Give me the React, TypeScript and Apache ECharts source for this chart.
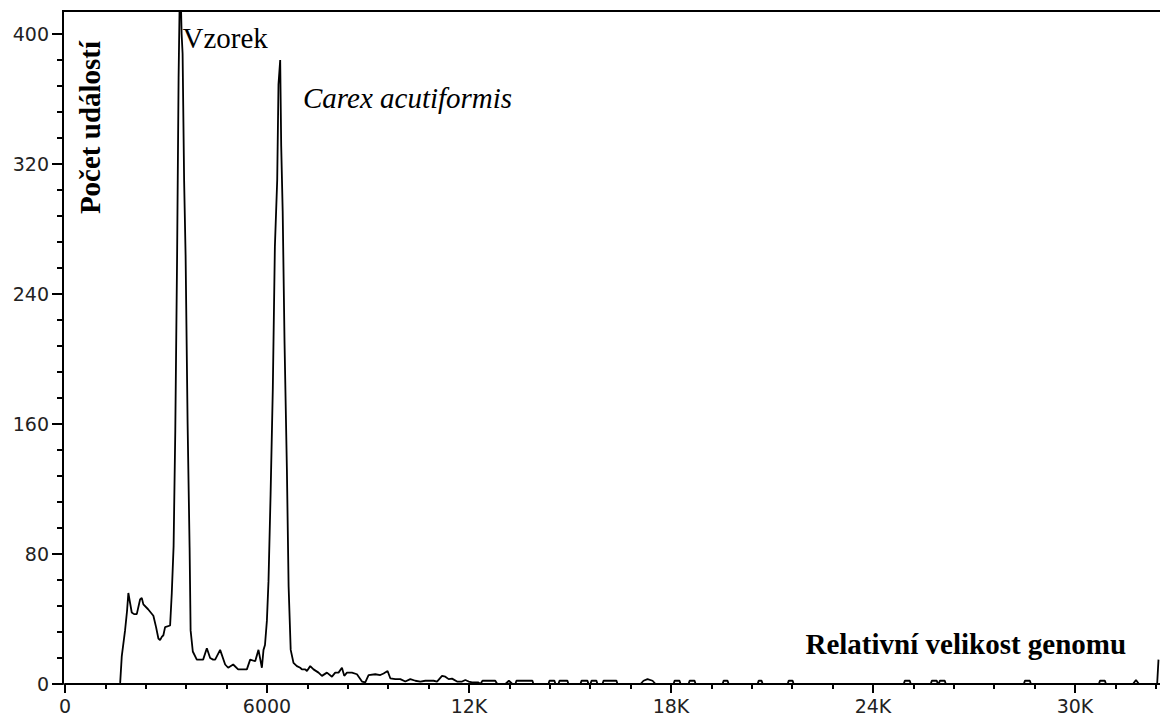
import React, { useEffect, useRef } from "react";
import * as echarts from "echarts";

// Relative genome size (channel position) and event counts
const genomeSize = [
  0, 1630, 1640, 1686, 1784, 1843, 1882, 1932, 1983, 2051, 2132, 2230, 2280, 2328, 2468, 2625,
  2705, 2774, 2824, 2875, 2922, 2973, 3122, 3172, 3226, 3276, 3330, 3374, 3419, 3464, 3493,
  3538, 3582, 3642, 3701, 3731, 3796, 3915, 4103, 4213, 4311, 4400, 4460, 4608, 4757, 4846,
  4995, 5143, 5402, 5500, 5649, 5747, 5848, 5896, 5940, 5997, 6044, 6107, 6172, 6234, 6303,
  6341, 6392, 6422, 6466, 6520, 6591, 6642, 6704, 6787, 6888, 6987, 7037, 7135, 7186, 7284,
  7382, 7531, 7632, 7780, 7929, 8027, 8125, 8226, 8295, 8375, 8524, 8672, 8821, 8919, 9017,
  9216, 9365, 9463, 9582, 9662, 9811, 9960, 10108, 10257, 10406, 10554, 10703, 10950, 11051,
  11199, 11297, 11396, 11496, 11645, 11794, 11892, 11990, 12091, 12278, 12340,
  12400, 12780, 12840,
  13081, 13185, 13289,
  13379, 13408, 13884, 13914,
  14360, 14389, 14538, 14568,
  14657, 14687, 14924, 14954,
  15311, 15341, 15519, 15549,
  15608, 15638, 15786, 15816,
  15965, 15995, 16381, 16411,
  17095, 17184, 17303, 17452, 17541,
  18076, 18106, 18254, 18284,
  18522, 18552, 18701, 18730,
  19533, 19562, 19681, 19711,
  20573, 20603, 20692, 20722,
  21465, 21495, 21614, 21643,
  24914, 24944, 25092, 25122,
  25716, 25746, 25895, 25925,
  25954, 25984, 26132, 26162,
  28482, 28511, 28660, 28690,
  30711, 30740, 30889, 30919,
  31722, 31811, 31900,
  32440, 32480,
];

const eventCounts = [
  0, 0, 1, 17, 33, 45, 56, 50, 44, 43, 43, 52, 53, 49, 46, 42,
  35, 28, 27, 29, 30, 35, 36, 56, 85, 156, 264, 373, 440, 400, 388,
  310, 264, 160, 84, 33, 20, 15, 15, 22, 16, 15, 15, 21, 12, 10,
  12, 9, 9, 15, 14, 21, 10, 21, 24, 39, 63, 117, 181, 269, 310,
  369, 384, 331, 291, 211, 132, 60, 21, 13, 11, 10, 9, 9, 8, 11,
  9, 7, 5, 7, 4.5, 7, 7, 10, 5, 7, 7, 6, 1.5, 1, 5.5,
  6, 5.5, 6.5, 8, 3.5, 3, 3, 1.5, 3, 2, 1.5, 2, 2, 1.5,
  5, 4.5, 3, 3.3, 1.5, 1.5, 2.5, 1.5, 1, 1, 0,
  2, 2, 0,
  0, 2, 0,
  0, 2, 2, 0,
  0, 2, 2, 0,
  0, 2, 2, 0,
  0, 2, 2, 0,
  0, 2, 2, 0,
  0, 2, 2, 0,
  0, 2, 3, 2, 0,
  0, 2, 2, 0,
  0, 2, 2, 0,
  0, 2, 2, 0,
  0, 2, 2, 0,
  0, 2, 2, 0,
  0, 2, 2, 0,
  0, 2, 2, 0,
  0, 2, 2, 0,
  0, 2, 2, 0,
  0, 2, 2, 0,
  0, 2.5, 0,
  0, 15,
];

const xTickLabels = ["0", "6000", "12K", "18K", "24K", "30K"];
const yTickLabels = ["0", "80", "160", "240", "320", "400"];
const peakLabels = ["Vzorek", "Carex acutiformis"];
const yAxisTitle = "Počet událostí";
const xAxisTitle = "Relativní velikost genomu";

export default function App() {
  const ref = useRef<HTMLDivElement>(null);

  useEffect(() => {
    if (!ref.current) return;
    const chart = echarts.init(ref.current, null, { renderer: "svg" });
    const data = genomeSize.map((x, i) => [x, eventCounts[i]]);
    const tickFont = "DejaVu Sans";
    const serif = "'Liberation Serif', 'Times New Roman', serif";

    chart.setOption({
      animation: false,
      backgroundColor: "#ffffff",
      grid: { left: 65, top: -96, width: 1212, height: 780, outerBoundsMode: "none", containLabel: false },
      xAxis: {
        type: "value",
        min: 0,
        max: 36000,
        interval: 6000,
        axisLine: { show: true, onZero: false, lineStyle: { color: "#000", width: 2 } },
        axisTick: { show: true, length: 9, lineStyle: { color: "#000", width: 2 } },
        minorTick: { show: true, splitNumber: 5, length: 5, lineStyle: { color: "#000", width: 2 } },
        splitLine: { show: false },
        minorSplitLine: { show: false },
        axisLabel: {
          margin: 12,
          color: "#222",
          fontSize: 19,
          fontFamily: tickFont,
          showMaxLabel: false,
          formatter: (v: number) => xTickLabels[Math.round(v / 6000)] ?? "",
        },
      },
      yAxis: {
        type: "value",
        min: 0,
        max: 480,
        interval: 80,
        offset: 2,
        axisLine: { show: true, onZero: false, lineStyle: { color: "#000", width: 2 } },
        axisTick: { show: true, length: 11, lineStyle: { color: "#000", width: 2 } },
        minorTick: { show: true, splitNumber: 5, length: 6, lineStyle: { color: "#000", width: 2 } },
        splitLine: { show: false },
        minorSplitLine: { show: false },
        axisLabel: {
          margin: 14,
          color: "#222",
          fontSize: 19,
          fontFamily: tickFont,
          showMaxLabel: false,
          formatter: (v: number) => yTickLabels[Math.round(v / 80)] ?? "",
        },
      },
      series: [
        {
          type: "line",
          data,
          symbol: "none",
          showSymbol: false,
          lineStyle: { color: "#000", width: 1.8 },
          z: 3,
        },
      ],
      graphic: [
        { type: "rect", z: 100, shape: { x: 0, y: 0, width: 1160, height: 10 }, style: { fill: "#fff" } },
        { type: "line", z: 101, shape: { x1: 62, y1: 11, x2: 1160, y2: 11 }, style: { stroke: "#000", lineWidth: 2 } },
        {
          type: "text",
          z: 102,
          x: 182.5,
          y: 38.2,
          style: { text: peakLabels[0], font: `normal 29px ${serif}`, fill: "#000", align: "left", verticalAlign: "middle" },
        },
        {
          type: "text",
          z: 102,
          x: 303,
          y: 98.2,
          style: { text: peakLabels[1], font: `italic 29px ${serif}`, fill: "#000", align: "left", verticalAlign: "middle" },
        },
        {
          type: "text",
          z: 102,
          x: 805.5,
          y: 644.2,
          style: { text: xAxisTitle, font: `bold 29px ${serif}`, fill: "#000", align: "left", verticalAlign: "middle" },
        },
        {
          type: "text",
          z: 102,
          x: 89.7,
          y: 127.5,
          rotation: Math.PI / 2,
          style: { text: yAxisTitle, font: `bold 29px ${serif}`, fill: "#000", align: "center", verticalAlign: "middle" },
        },
      ],
    });

    return () => chart.dispose();
  }, []);

  return <div ref={ref} style={{ position: "fixed", left: 0, top: 0, width: 1160, height: 717 }} />;
}
